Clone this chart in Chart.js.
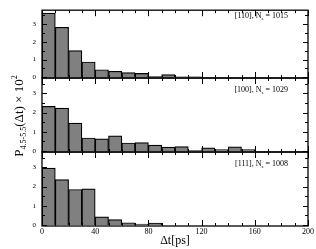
<!DOCTYPE html>
<html>
<head>
<meta charset="utf-8">
<script src="https://cdn.jsdelivr.net/npm/chart.js@4"></script>
<style>
body { margin: 0; background: #fff; }
#wrap { position: relative; width: 316px; height: 249px; font-family: "Liberation Serif", "DejaVu Serif", serif; color: #000; }
canvas { position: absolute; left: 0; top: 0; }
.lab { position: absolute; right: 28px; font-size: 8px; line-height: 10px; white-space: nowrap; }
.lab sub { font-size: 5px; vertical-align: -2px; }
#ylab { position: absolute; left: -50px; top: 108px; width: 130px; height: 16px; line-height: 16px; text-align: center;
        font-size: 13px; white-space: nowrap; transform: rotate(-90deg); }
#ylab sub { font-size: 8px; vertical-align: -3px; }
#ylab sup { font-size: 8px; vertical-align: 6px; }
</style>
</head>
<body>
<div id="wrap">
  <canvas id="c0" width="316" height="249"></canvas>
  <canvas id="c1" width="316" height="249"></canvas>
  <canvas id="c2" width="316" height="249"></canvas>
  <div id="ylab">P<sub>4.5-5.5</sub>(Δt) × 10<sup>2</sup></div>
</div>
<script>
// bin centres (ps), 10 ps wide bins
const binCenters = [5,15,25,35,45,55,65,75,85,95,105,115,125,135,145,155,165,175,185,195];
const p110 = [3.64,2.83,1.51,0.86,0.42,0.33,0.26,0.21,0.03,0.14,0.01,0.02,0,0,0,0,0,0,0,0];
const p100 = [2.32,2.23,1.45,0.68,0.63,0.79,0.42,0.44,0.31,0.2,0.23,0.03,0.17,0.08,0.22,0.08,0,0,0,0];
const p111 = [2.96,2.36,1.85,1.88,0.43,0.28,0.12,0.05,0.1,0,0,0,0,0,0,0,0,0,0,0];
const directions = ['[110]', '[100]', '[111]'];
const nsValues = [1015, 1029, 1008];
const xTicks = [0, 40, 80, 120, 160, 200];
const yTicks = [0, 1, 2, 3];

const series = [p110, p100, p111];
const panelTop = [4, 78, 152];
const panelBottom = [78, 152, 226];

// inward ticks on all four sides + frame
const frameTicks = {
  id: 'frameTicks',
  afterDraw(c) {
    const ctx = c.ctx, a = c.chartArea, x = c.scales.x, y = c.scales.y;
    ctx.save();
    ctx.strokeStyle = '#000';
    ctx.lineWidth = 1;
    ctx.beginPath();
    for (let v = 0; v <= 200; v += 10) {
      const px = Math.round(x.getPixelForValue(v)) + 0.5;
      const len = v % 40 === 0 ? 6 : 3;
      ctx.moveTo(px, a.bottom); ctx.lineTo(px, a.bottom - len);
      ctx.moveTo(px, a.top); ctx.lineTo(px, a.top + len);
    }
    for (let v = 0; v <= 3.5; v += 0.5) {
      const py = Math.round(y.getPixelForValue(v)) + 0.5;
      const len = v % 1 === 0 ? 5 : 3;
      ctx.moveTo(a.left, py); ctx.lineTo(a.left + len, py);
      ctx.moveTo(a.right, py); ctx.lineTo(a.right - len, py);
    }
    ctx.stroke();
    ctx.lineWidth = 1.3;
    ctx.strokeRect(a.left, a.top, a.right - a.left, a.bottom - a.top);
    ctx.restore();
  }
};

function makePanel(i) {
  const last = i === 2;
  return new Chart(document.getElementById('c' + i), {
    type: 'bar',
    data: {
      datasets: [{
        data: binCenters.map((b, k) => ({ x: b, y: series[i][k] })),
        backgroundColor: '#808080',
        borderColor: '#000',
        borderWidth: 1.2,
        barPercentage: 1,
        categoryPercentage: 1
      }]
    },
    options: {
      responsive: false,
      animation: false,
      events: [],
      layout: { padding: { left: 0, right: 8, top: panelTop[i], bottom: last ? 0 : 249 - panelBottom[i] } },
      plugins: { legend: { display: false }, tooltip: { enabled: false } },
      scales: {
        x: {
          type: 'linear', min: 0, max: 200, display: last, offset: false,
          afterBuildTicks: s => { s.ticks = xTicks.map(v => ({ value: v })); },
          afterFit: s => { s.height = last ? 23 : 0; },
          grid: { display: false, drawTicks: false, offset: false }, border: { display: false },
          ticks: { font: { family: 'Liberation Serif', size: 8 }, color: '#000', padding: 1, maxRotation: 0 },
          title: { display: true, text: 'Δt[ps]', font: { family: 'Liberation Serif', size: 12 }, color: '#000', padding: { top: 0, bottom: 1 } }
        },
        y: {
          min: -0.05, max: 3.8,
          afterBuildTicks: s => { s.ticks = yTicks.map(v => ({ value: v })); },
          afterFit: s => { s.width = 42; },
          grid: { display: false, drawTicks: false }, border: { display: false },
          ticks: { font: { family: 'Liberation Serif', size: 7 }, color: '#000', padding: 6 }
        }
      }
    },
    plugins: [frameTicks]
  });
}

const wrap = document.getElementById('wrap');
for (let i = 0; i < 3; i++) {
  makePanel(i);
  const d = document.createElement('div');
  d.className = 'lab';
  d.style.top = (panelTop[i] + 7) + 'px';
  d.innerHTML = directions[i] + ', N<sub>s</sub> = ' + nsValues[i];
  wrap.appendChild(d);
}
</script>
</body>
</html>
